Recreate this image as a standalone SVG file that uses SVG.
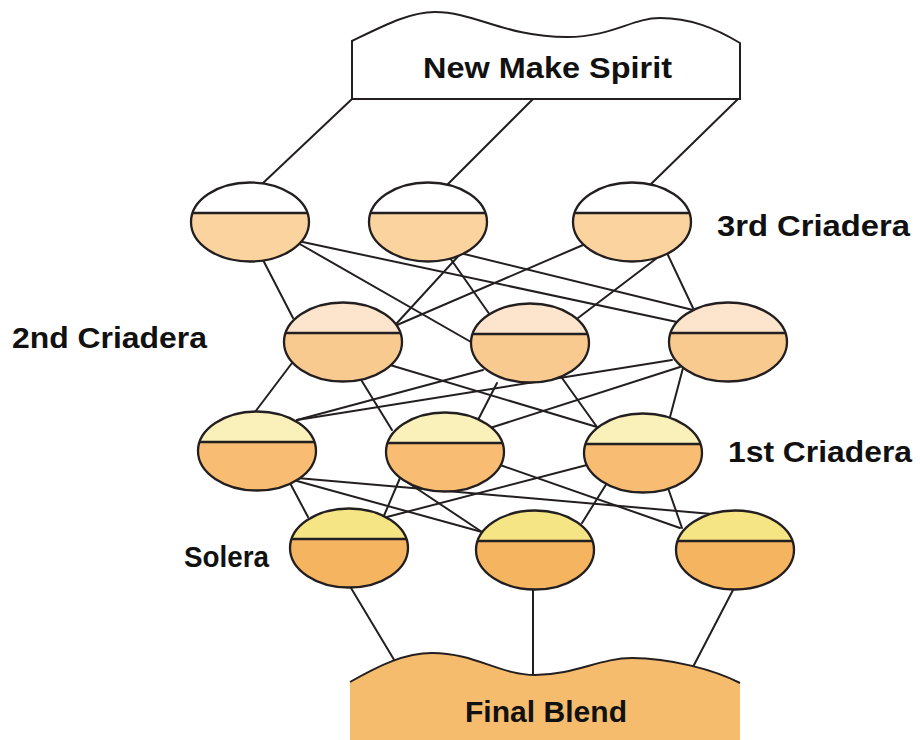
<svg xmlns="http://www.w3.org/2000/svg" width="920" height="740" viewBox="0 0 920 740">
<style>
.ln{stroke:#231f20;stroke-width:2;fill:none;stroke-linecap:round}
.out{fill:none;stroke:#231f20;stroke-width:2.3}
.div{stroke:#231f20;stroke-width:2.3}
.lbl{font-family:"Liberation Sans",Arial,sans-serif;font-weight:bold;font-size:29px;fill:#111}
.r1b{fill:#fad39f}.r1t{fill:#ffffff}
.r2b{fill:#f9ca90}.r2t{fill:#fce5cc}
.r3b{fill:#f8bd72}.r3t{fill:#faf0b9}
.r4b{fill:#f5b560}.r4t{fill:#f6e585}
</style>
<defs>
<ellipse id="eb" cx="0" cy="0" rx="59" ry="39.5"/>
<path id="et" d="M-57.4,-9 A59,39.5 0 0 1 57.4,-9 Z"/>
<line id="ed" x1="-57.4" y1="-9" x2="57.4" y2="-9"/>
</defs>

<g id="connectors">
<line class="ln" x1="352" y1="99" x2="262" y2="184"/>
<line class="ln" x1="533" y1="99" x2="447" y2="185"/>
<line class="ln" x1="738" y1="99" x2="651" y2="184"/>

<line class="ln" x1="262" y1="258" x2="293" y2="318"/>
<line class="ln" x1="298" y1="243" x2="471" y2="342"/>
<line class="ln" x1="298" y1="241" x2="677" y2="322"/>
<line class="ln" x1="463" y1="251" x2="397" y2="323"/>
<line class="ln" x1="450" y1="258" x2="490" y2="315"/>
<line class="ln" x1="460" y1="253" x2="693" y2="310"/>
<line class="ln" x1="583" y1="245" x2="397" y2="325"/>
<line class="ln" x1="657" y1="258" x2="578" y2="318"/>
<line class="ln" x1="667" y1="253" x2="693" y2="308"/>

<line class="ln" x1="292" y1="363" x2="255" y2="412"/>
<line class="ln" x1="360" y1="378" x2="392" y2="430"/>
<line class="ln" x1="390" y1="365" x2="597" y2="427"/>
<line class="ln" x1="483" y1="370" x2="297" y2="420"/>
<line class="ln" x1="497" y1="383" x2="478" y2="420"/>
<line class="ln" x1="562" y1="378" x2="597" y2="427"/>
<line class="ln" x1="672" y1="360" x2="297" y2="420"/>
<line class="ln" x1="680" y1="367" x2="490" y2="428"/>
<line class="ln" x1="683" y1="368" x2="670" y2="417"/>

<line class="ln" x1="290" y1="483" x2="308" y2="517"/>
<line class="ln" x1="297" y1="481" x2="482" y2="532"/>
<line class="ln" x1="297" y1="478" x2="712" y2="514"/>
<line class="ln" x1="400" y1="478" x2="383" y2="518"/>
<line class="ln" x1="398" y1="476" x2="482" y2="532"/>
<line class="ln" x1="500" y1="465" x2="680" y2="528"/>
<line class="ln" x1="587" y1="465" x2="383" y2="518"/>
<line class="ln" x1="607" y1="483" x2="582" y2="523"/>
<line class="ln" x1="668" y1="488" x2="682" y2="528"/>

<line class="ln" x1="351" y1="588" x2="396" y2="663"/>
<line class="ln" x1="533" y1="590" x2="533" y2="675"/>
<line class="ln" x1="733" y1="590" x2="693" y2="667"/>
</g>

<g id="new-make-spirit">
<path d="M352,99 V41 C385,25 410,12 435,12 C475,12 505,37 567,37 C612,37 632,18 660,18 C690,18 715,28 740,43 V99 Z" fill="#ffffff" stroke="#231f20" stroke-width="2"/>
<text class="lbl" x="423" y="78" textLength="249" lengthAdjust="spacingAndGlyphs">New Make Spirit</text>
</g>

<g id="final-blend">
<path d="M350,740 V682 C380,665 405,653 432,653 C475,653 500,675 535,675 C575,675 600,658 632,658 C670,658 715,670 740,683 V740 Z" fill="#f6bc6e"/>
<path d="M350,682 C380,665 405,653 432,653 C475,653 500,675 535,675 C575,675 600,658 632,658 C670,658 715,670 740,683" fill="none" stroke="#231f20" stroke-width="2"/>
<text class="lbl" x="465" y="722" textLength="162" lengthAdjust="spacingAndGlyphs">Final Blend</text>
</g>

<g id="c3-a" transform="translate(250,222)"><use href="#eb" class="r1b"/><use href="#et" class="r1t"/><use href="#ed" class="div"/><use href="#eb" class="out"/></g>
<g id="c3-b" transform="translate(428,222)"><use href="#eb" class="r1b"/><use href="#et" class="r1t"/><use href="#ed" class="div"/><use href="#eb" class="out"/></g>
<g id="c3-c" transform="translate(632,222)"><use href="#eb" class="r1b"/><use href="#et" class="r1t"/><use href="#ed" class="div"/><use href="#eb" class="out"/></g>

<g id="c2-a" transform="translate(343,342)"><use href="#eb" class="r2b"/><use href="#et" class="r2t"/><use href="#ed" class="div"/><use href="#eb" class="out"/></g>
<g id="c2-b" transform="translate(530,343)"><use href="#eb" class="r2b"/><use href="#et" class="r2t"/><use href="#ed" class="div"/><use href="#eb" class="out"/></g>
<g id="c2-c" transform="translate(728,342)"><use href="#eb" class="r2b"/><use href="#et" class="r2t"/><use href="#ed" class="div"/><use href="#eb" class="out"/></g>

<g id="c1-a" transform="translate(257,451)"><use href="#eb" class="r3b"/><use href="#et" class="r3t"/><use href="#ed" class="div"/><use href="#eb" class="out"/></g>
<g id="c1-b" transform="translate(445,452)"><use href="#eb" class="r3b"/><use href="#et" class="r3t"/><use href="#ed" class="div"/><use href="#eb" class="out"/></g>
<g id="c1-c" transform="translate(643,453)"><use href="#eb" class="r3b"/><use href="#et" class="r3t"/><use href="#ed" class="div"/><use href="#eb" class="out"/></g>

<g id="solera-a" transform="translate(349,548)"><use href="#eb" class="r4b"/><use href="#et" class="r4t"/><use href="#ed" class="div"/><use href="#eb" class="out"/></g>
<g id="solera-b" transform="translate(535,550)"><use href="#eb" class="r4b"/><use href="#et" class="r4t"/><use href="#ed" class="div"/><use href="#eb" class="out"/></g>
<g id="solera-c" transform="translate(735,550)"><use href="#eb" class="r4b"/><use href="#et" class="r4t"/><use href="#ed" class="div"/><use href="#eb" class="out"/></g>

<g id="labels">
<text class="lbl" x="717" y="236" textLength="193" lengthAdjust="spacingAndGlyphs">3rd Criadera</text>
<text class="lbl" x="12" y="348" textLength="195" lengthAdjust="spacingAndGlyphs">2nd Criadera</text>
<text class="lbl" x="728" y="462" textLength="184" lengthAdjust="spacingAndGlyphs">1st Criadera</text>
<text class="lbl" x="184" y="567" textLength="85" lengthAdjust="spacingAndGlyphs">Solera</text>
</g>
</svg>
